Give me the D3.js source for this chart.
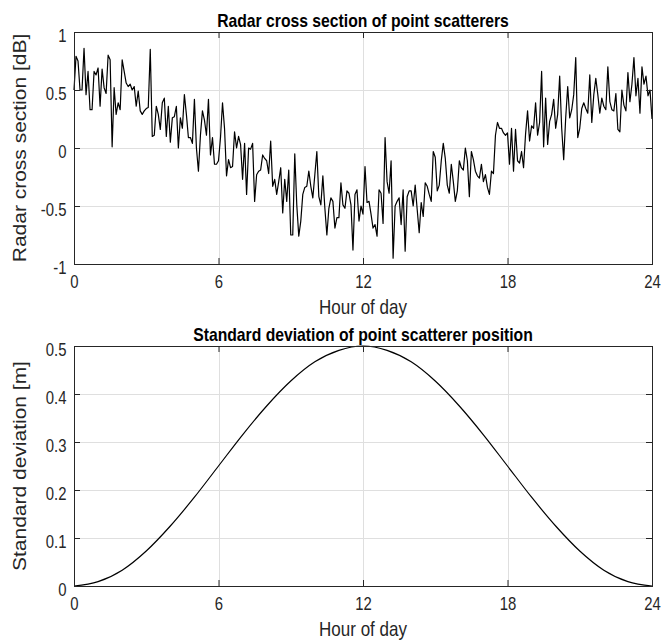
<!DOCTYPE html>
<html>
<head>
<meta charset="utf-8">
<script src="https://cdn.jsdelivr.net/npm/d3@7"></script>
<style>
  html, body { margin: 0; padding: 0; background: #fff; }
  svg { display: block; font-family: "Liberation Sans", Arial, Helvetica, sans-serif; }
</style>
</head>
<body>
<svg id="fig" width="663" height="641"></svg>
<script>
// ---- data ----
const hourTicks = [0, 6, 12, 18, 24];
const rcsTicks = [-1, -0.5, 0, 0.5, 1];
const stdTicks = [0, 0.1, 0.2, 0.3, 0.4, 0.5];

// radar cross section sampled every 5 minutes over one day [dB]
const sampleMinutes = 5;
const rcsValues = [
  0.50, 0.79, 0.75, 0.50, 0.50, 0.86, 0.46, 0.66, 0.33, 0.33,
  0.66, 0.63, 0.69, 0.36, 0.68, 0.52, 0.47, 0.80, 0.76, 0.01,
  0.52, 0.29, 0.39, 0.33, 0.76, 0.66, 0.56, 0.53, 0.55, 0.50,
  0.53, 0.36, 0.49, 0.32, 0.29, 0.32, 0.34, 0.35, 0.85, 0.10,
  0.11, 0.36, 0.29, 0.16, 0.39, 0.43, 0.10, 0.36, 0.05, 0.26,
  0.27, 0.36, 0.00, 0.26, 0.17, 0.46, 0.29, 0.09, 0.09, 0.04,
  0.42, 0.00, -0.20, 0.11, 0.32, 0.24, 0.11, 0.42, -0.06, 0.09,
  -0.14, -0.14, -0.11, 0.09, 0.39, 0.17, -0.24, -0.10, -0.17, -0.16,
  0.14, 0.00, 0.10, 0.03, -0.27, 0.04, -0.40, 0.00, -0.01, 0.04,
  -0.46, -0.23, -0.20, -0.19, -0.06, -0.09, -0.11, -0.22, 0.06, -0.33,
  -0.27, -0.40, -0.29, -0.17, -0.56, -0.27, -0.46, -0.19, -0.75, -0.75,
  -0.05, -0.49, -0.76, -0.63, -0.40, -0.34, -0.33, -0.20, -0.33, -0.43,
  -0.23, -0.03, -0.42, -0.49, -0.24, -0.52, -0.75, -0.52, -0.43, -0.46,
  -0.69, -0.60, -0.60, -0.30, -0.49, -0.52, -0.37, -0.39, -0.49, -0.88,
  -0.40, -0.36, -0.63, -0.50, -0.57, -0.16, -0.47, -0.46, -0.57, -0.69,
  -0.66, -0.76, -0.36, -0.39, -0.65, 0.09, -0.29, -0.39, -0.11, -0.95,
  -0.50, -0.46, -0.43, -0.66, -0.36, -0.89, -0.42, -0.37, -0.37, -0.50,
  -0.32, -0.53, -0.73, -0.47, -0.59, -0.30, -0.33, -0.40, -0.46, -0.03,
  -0.08, -0.37, -0.32, -0.11, 0.04, -0.09, -0.32, -0.39, -0.14, -0.29,
  -0.46, -0.37, -0.11, -0.17, -0.19, 0.00, -0.11, -0.42, -0.03, -0.10,
  -0.20, -0.24, -0.26, -0.14, -0.29, -0.23, -0.34, -0.40, -0.20, -0.22,
  0.11, 0.22, 0.17, 0.17, 0.13, 0.11, 0.13, -0.14, 0.17, -0.20,
  0.16, -0.11, -0.13, -0.03, -0.17, 0.12, 0.32, 0.06, 0.19, 0.17,
  0.39, 0.11, 0.22, 0.66, 0.01, 0.43, 0.03, 0.23, 0.29, 0.42,
  0.17, 0.29, 0.62, 0.17, -0.10, 0.26, 0.53, 0.26, 0.33, 0.46,
  0.78, 0.09, 0.17, 0.34, 0.39, 0.34, 0.30, 0.63, 0.22, 0.46,
  0.60, 0.46, 0.30, 0.43, 0.36, 0.33, 0.70, 0.40, 0.33, 0.32,
  0.47, 0.16, 0.14, 0.50, 0.37, 0.32, 0.65, 0.40, 0.55, 0.78,
  0.45, 0.60, 0.30, 0.70, 0.55, 0.62, 0.45, 0.50, 0.25
];

// standard deviation of point scatterer position, hourly [m]
const stdHours = [0, 1, 2, 3, 4, 5, 6, 7, 8, 9, 10, 11, 12,
                  13, 14, 15, 16, 17, 18, 19, 20, 21, 22, 23, 24];
const stdValues = [0, 0.009, 0.033, 0.073, 0.125, 0.185, 0.25, 0.315, 0.375, 0.427, 0.467, 0.491, 0.5,
                   0.491, 0.467, 0.427, 0.375, 0.315, 0.25, 0.185, 0.125, 0.073, 0.033, 0.009, 0];

// ---- layout ----
const svg = d3.select("#fig");
const axisColor = "#262626";
const gridColor = "#dfdfdf";
const tickLen = 6;
const plotLeft = 74, plotRight = 652;
const narrow = 0.85;                 // horizontal squeeze of the narrow type face
const tickFont = 17.5, labelFont = 20, yLabelFont = 21, titleFont = 18.5;
const yTickPad = 7.5;

const x = d3.scaleLinear().domain([0, 24]).range([plotLeft, plotRight]);

function drawPanel(cfg) {
  const y = d3.scaleLinear().domain(cfg.yDomain).range([cfg.bottom, cfg.top]);
  const g = svg.append("g");
  const fmt = d => String(d);

  // grid
  g.append("g").selectAll("line").data(hourTicks).join("line")
    .attr("x1", d => Math.round(x(d)) + 0.5).attr("x2", d => Math.round(x(d)) + 0.5)
    .attr("y1", cfg.top).attr("y2", cfg.bottom)
    .attr("stroke", gridColor).attr("stroke-width", 1);
  g.append("g").selectAll("line").data(cfg.yTicks).join("line")
    .attr("x1", plotLeft).attr("x2", plotRight)
    .attr("y1", d => Math.round(y(d)) + 0.5).attr("y2", d => Math.round(y(d)) + 0.5)
    .attr("stroke", gridColor).attr("stroke-width", 1);

  // data line
  const line = d3.line()
    .x(d => x(d[0])).y(d => y(d[1]))
    .curve(cfg.curve || d3.curveLinear);
  g.append("path")
    .datum(cfg.points)
    .attr("fill", "none")
    .attr("stroke", "#000")
    .attr("stroke-width", 1.2)
    .attr("stroke-linejoin", "round")
    .attr("d", line);

  // axes (ticks pointing inward on all four sides)
  const styleAxis = sel => {
    sel.select(".domain").remove();
    sel.selectAll(".tick line").attr("stroke", axisColor);
    sel.selectAll(".tick text").attr("fill", axisColor)
      .attr("font-size", tickFont)
      .attr("font-family", "Liberation Sans, Arial, Helvetica, sans-serif");
  };
  g.append("g").attr("transform", `translate(0,${cfg.bottom})`)
    .call(d3.axisBottom(x).tickValues(hourTicks).tickFormat(fmt).tickSize(-tickLen).tickPadding(12))
    .call(styleAxis)
    .call(sel => sel.selectAll(".tick text").attr("transform", `scale(${narrow},1)`));
  g.append("g").attr("transform", `translate(0,${cfg.top})`)
    .call(d3.axisTop(x).tickValues(hourTicks).tickFormat("").tickSize(-tickLen))
    .call(styleAxis);
  g.append("g").attr("transform", `translate(${plotLeft},0)`)
    .call(d3.axisLeft(y).tickValues(cfg.yTicks).tickFormat(fmt).tickSize(-tickLen))
    .call(styleAxis)
    .call(sel => sel.selectAll(".tick text")
      .attr("x", -yTickPad / narrow)
      .attr("dy", "0.55em")
      .attr("transform", `scale(${narrow},1)`));
  g.append("g").attr("transform", `translate(${plotRight},0)`)
    .call(d3.axisRight(y).tickValues(cfg.yTicks).tickFormat("").tickSize(-tickLen))
    .call(styleAxis);

  // box
  g.append("rect")
    .attr("x", plotLeft + 0.5).attr("y", cfg.top + 0.5)
    .attr("width", plotRight - plotLeft).attr("height", cfg.bottom - cfg.top)
    .attr("fill", "none").attr("stroke", axisColor).attr("stroke-width", 1);

  // title and labels
  const cx = (plotLeft + plotRight) / 2;
  g.append("text")
    .attr("transform", `translate(${cx},${cfg.top - 5.5}) scale(${narrow},1)`)
    .attr("text-anchor", "middle")
    .attr("font-size", titleFont).attr("font-weight", "bold").attr("fill", "#000")
    .text(cfg.title);
  g.append("text")
    .attr("transform", `translate(${cx},${cfg.bottom + 50}) scale(${narrow},1)`)
    .attr("text-anchor", "middle")
    .attr("font-size", labelFont).attr("fill", axisColor)
    .text("Hour of day");
  g.append("text")
    .attr("transform", `translate(26,${(cfg.top + cfg.bottom) / 2}) scale(${narrow},1) rotate(-90)`)
    .attr("text-anchor", "middle")
    .attr("font-size", yLabelFont).attr("fill", axisColor)
    .text(cfg.yLabel);
}

drawPanel({
  top: 32, bottom: 264,
  yDomain: [-1, 1], yTicks: rcsTicks,
  points: rcsValues.map((v, i) => [i * sampleMinutes / 60, v]),
  title: "Radar cross section of point scatterers",
  yLabel: "Radar cross section [dB]"
});

drawPanel({
  top: 346, bottom: 586,
  yDomain: [0, 0.5], yTicks: stdTicks,
  points: stdHours.map((h, i) => [h, stdValues[i]]),
  curve: d3.curveMonotoneX,
  title: "Standard deviation of point scatterer position",
  yLabel: "Standard deviation [m]"
});
</script>
</body>
</html>
